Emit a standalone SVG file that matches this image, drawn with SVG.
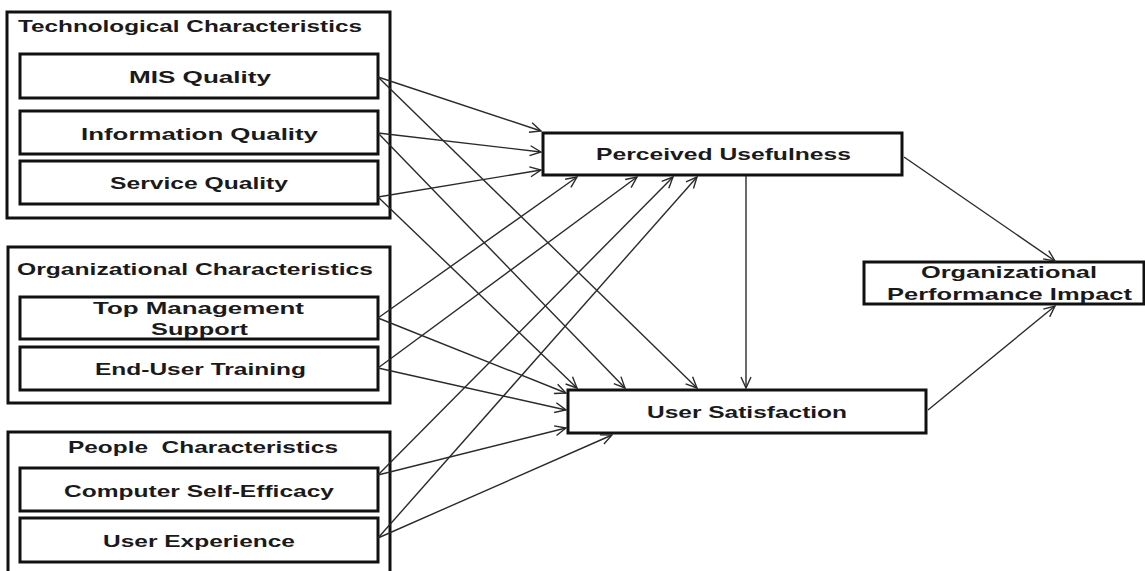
<svg xmlns="http://www.w3.org/2000/svg" width="1145" height="571" viewBox="0 0 1145 571">
  <style>
    .group { fill: #ffffff; stroke: #111111; stroke-width: 3; }
    .box { fill: #ffffff; stroke: #111111; stroke-width: 3; }
    .label { font-family: "Liberation Sans", Arial, sans-serif; font-weight: bold; font-size: 17px; fill: #1a1a1a; white-space: pre; }
    .link { fill: none; stroke: #2a2a2a; stroke-width: 1.4; marker-end: url(#arrow); }
  </style>
  <defs>
    <marker id="arrow" markerUnits="userSpaceOnUse" markerWidth="14" markerHeight="14" viewBox="0 0 14 14" refX="13" refY="7" orient="auto">
      <path d="M2,2 L13,7 L2,12" fill="none" stroke="#2a2a2a" stroke-width="1.4"/>
    </marker>
  </defs>

  <rect width="1145" height="571" fill="#ffffff"/>

  <!-- Technological characteristics -->
  <g id="technological">
    <rect class="group" x="7" y="12" width="383" height="206"/>
    <text class="label" x="18" y="32" textLength="344" lengthAdjust="spacingAndGlyphs">Technological Characteristics</text>
  </g>
  <g id="mis-quality">
    <rect class="box" x="20" y="54" width="358" height="44"/>
    <text class="label" x="129" y="83" textLength="142" lengthAdjust="spacingAndGlyphs">MIS Quality</text>
  </g>
  <g id="information-quality">
    <rect class="box" x="20" y="111" width="358" height="43"/>
    <text class="label" x="81" y="140" textLength="237" lengthAdjust="spacingAndGlyphs">Information Quality</text>
  </g>
  <g id="service-quality">
    <rect class="box" x="20" y="161" width="358" height="43"/>
    <text class="label" x="110" y="189" textLength="178" lengthAdjust="spacingAndGlyphs">Service Quality</text>
  </g>

  <!-- Organizational characteristics -->
  <g id="organizational">
    <rect class="group" x="8" y="247" width="382" height="156"/>
    <text class="label" x="17" y="275" textLength="356" lengthAdjust="spacingAndGlyphs">Organizational Characteristics</text>
  </g>
  <g id="top-management-support">
    <rect class="box" x="20" y="297" width="358" height="42"/>
    <text class="label" x="93" y="314" textLength="211" lengthAdjust="spacingAndGlyphs">Top Management</text>
    <text class="label" x="151" y="335" textLength="97" lengthAdjust="spacingAndGlyphs">Support</text>
  </g>
  <g id="end-user-training">
    <rect class="box" x="20" y="347" width="358" height="43"/>
    <text class="label" x="95" y="375" textLength="211" lengthAdjust="spacingAndGlyphs">End-User Training</text>
  </g>

  <!-- People characteristics -->
  <g id="people">
    <rect class="group" x="8" y="432" width="382" height="152"/>
    <text class="label" x="68" y="453" textLength="270" lengthAdjust="spacingAndGlyphs">People  Characteristics</text>
  </g>
  <g id="computer-self-efficacy">
    <rect class="box" x="20" y="468" width="358" height="43"/>
    <text class="label" x="64" y="497" textLength="270" lengthAdjust="spacingAndGlyphs">Computer Self-Efficacy</text>
  </g>
  <g id="user-experience">
    <rect class="box" x="20" y="518" width="358" height="44"/>
    <text class="label" x="103" y="547" textLength="192" lengthAdjust="spacingAndGlyphs">User Experience</text>
  </g>

  <!-- Outcome constructs -->
  <g id="perceived-usefulness">
    <rect class="box" x="543" y="133" width="359" height="42"/>
    <text class="label" x="596" y="160" textLength="255" lengthAdjust="spacingAndGlyphs">Perceived Usefulness</text>
  </g>
  <g id="user-satisfaction">
    <rect class="box" x="568" y="390" width="358" height="43"/>
    <text class="label" x="647" y="418" textLength="200" lengthAdjust="spacingAndGlyphs">User Satisfaction</text>
  </g>
  <g id="organizational-performance-impact">
    <rect class="box" x="864" y="262" width="280" height="42"/>
    <text class="label" x="921" y="278" textLength="176" lengthAdjust="spacingAndGlyphs">Organizational</text>
    <text class="label" x="887" y="300" textLength="245" lengthAdjust="spacingAndGlyphs">Performance Impact</text>
  </g>

  <!-- Hypothesised paths -->
  <g id="connectors">
    <line class="link" x1="378" y1="77" x2="541" y2="131"/>
    <line class="link" x1="378" y1="77" x2="697" y2="388"/>
    <line class="link" x1="378" y1="133" x2="541" y2="152"/>
    <line class="link" x1="378" y1="133" x2="625" y2="388"/>
    <line class="link" x1="378" y1="197" x2="541" y2="170"/>
    <line class="link" x1="378" y1="197" x2="577" y2="388"/>
    <line class="link" x1="378" y1="318" x2="577" y2="177"/>
    <line class="link" x1="378" y1="318" x2="566" y2="393"/>
    <line class="link" x1="378" y1="368" x2="637" y2="177"/>
    <line class="link" x1="378" y1="368" x2="566" y2="410"/>
    <line class="link" x1="378" y1="475" x2="673" y2="177"/>
    <line class="link" x1="378" y1="475" x2="566" y2="428"/>
    <line class="link" x1="378" y1="538" x2="697" y2="177"/>
    <line class="link" x1="378" y1="538" x2="612" y2="435"/>
    <line class="link" x1="746" y1="176" x2="746" y2="388"/>
    <line class="link" x1="904" y1="157" x2="1055" y2="261"/>
    <line class="link" x1="928" y1="410" x2="1055" y2="306"/>
  </g>
</svg>
